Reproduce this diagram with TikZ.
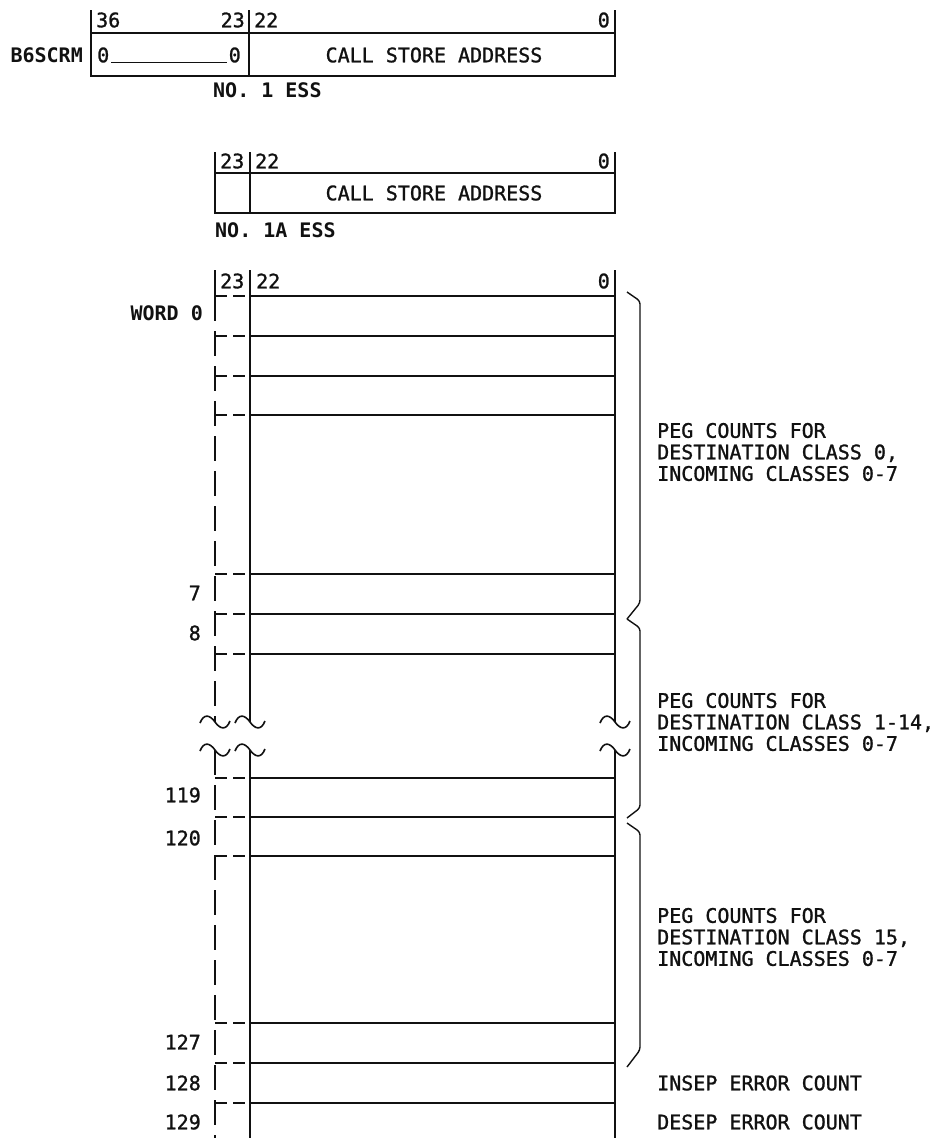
\documentclass[tikz,border=0pt]{standalone}
\usepackage{fontspec}
\setmonofont{DejaVu Sans Mono}
\newfontfamily\medmono[FakeBold=1.2]{DejaVu Sans Mono}
\usepackage{tikz}
\definecolor{ink}{HTML}{111111}

\begin{document}
\begin{tikzpicture}[x=1pt,y=-1pt,
  lbl/.style={font=\medmono\fontsize{20}{21.5}\selectfont,inner sep=0pt,text=ink,align=left},
  blbl/.style={lbl,font=\ttfamily\bfseries\fontsize{20}{21.5}\selectfont},
  wall/.style={draw=ink,line width=1.6pt},
  dwall/.style={wall,dash pattern=on 25pt off 10pt},
  dcell/.style={wall,dash pattern=on 12pt off 6pt},
  tick/.style={draw=ink,line width=1.4pt},
  grp/.style={draw=ink,line width=1.4pt,rounded corners=3pt}
]
\useasboundingbox (0,0) rectangle (939,1138);

% NO. 1 ESS register
\draw[wall] (91,33) rectangle (615,76);
\draw[wall] (249,33) -- (249,76);
\foreach \x in {91,249,615} \draw[tick] (\x,10) -- (\x,33);
\node[blbl,anchor=east] (reg) at (83,55) {B6SCRM};
\node[lbl,anchor=west] (b36) at (96,20) {36};
\node[lbl,anchor=east] (b23a) at (245,20) {23};
\node[lbl,anchor=west] (b22a) at (254,20) {22};
\node[lbl,anchor=east] (b0a) at (610,20) {0};
\node[lbl,anchor=west] (zl) at (97,55) {0};
\node[lbl,anchor=east] (zr) at (241,55) {0};
\draw[tick] ([xshift=2pt]zl.base east) -- ([xshift=-2pt]zr.base west);
\node[lbl] (csa) at (434,55) {CALL STORE ADDRESS};
\node[blbl,anchor=west] (ess1) at (213,90) {NO. 1 ESS};

% NO. 1A ESS register
\draw[wall] (215,173) rectangle (615,213);
\draw[wall] (250,173) -- (250,213);
\foreach \x in {215,250,615} \draw[tick] (\x,152) -- (\x,173);
\node[lbl,anchor=west] (b23b) at (220,161) {23};
\node[lbl,anchor=west] (b22b) at (255,161) {22};
\node[lbl,anchor=east] (b0b) at (610,161) {0};
\node[lbl] (csb) at (434,193) {CALL STORE ADDRESS};
\node[blbl,anchor=west] (ess1a) at (215,230) {NO. 1A ESS};

% peg count table
\foreach \x in {215,250,615} \draw[tick] (\x,270) -- (\x,296);
\node[lbl,anchor=west] (b23c) at (220,281) {23};
\node[lbl,anchor=west] (b22c) at (256,281) {22};
\node[lbl,anchor=east] (b0c) at (610,281) {0};

\foreach \y in {296,336,376,415,574,614,654,778,817,856,1023,1063,1103} {
  \draw[dcell] (215,\y) -- (250,\y);
  \draw[wall] (250,\y) -- (615,\y);
}
\draw[dwall] (215,296) -- (215,722);
\draw[dwall] (215,750) -- (215,1138);
\foreach \x in {250,615} {
  \draw[wall] (\x,296) -- (\x,722);
  \draw[wall] (\x,750) -- (\x,1138);
}
% break marks
\foreach \x in {215,250,615}
  \foreach \y in {722,750}
    \draw[wall] ({\x-15},{\y+1}) .. controls ({\x-11},{\y-9}) and ({\x-5},{\y-7}) .. (\x,\y)
                .. controls ({\x+5},{\y+7}) and ({\x+11},{\y+9}) .. ({\x+15},{\y-1});

% word numbers
\node[blbl,anchor=east] (w0) at (203,313) {WORD 0};
\foreach \t/\y in {7/593,8/633,119/795,120/838,127/1042,128/1083,129/1122}
  \node[lbl,anchor=east] (w\t) at (201,\y) {\t};

% groups
\draw[grp] (627,292) -- (640,301) -- (640,603) -- (627,619);
\draw[grp] (627,619) -- (640,628) -- (640,808) -- (627,818);
\draw[grp] (627,823) -- (640,832) -- (640,1050) -- (627,1067);
\node[lbl,anchor=west] (g0) at (657,452) {PEG COUNTS FOR\\DESTINATION CLASS 0,\\INCOMING CLASSES 0-7};
\node[lbl,anchor=west] (g1) at (657,722) {PEG COUNTS FOR\\DESTINATION CLASS 1-14,\\INCOMING CLASSES 0-7};
\node[lbl,anchor=west] (g15) at (657,937) {PEG COUNTS FOR\\DESTINATION CLASS 15,\\INCOMING CLASSES 0-7};
\node[lbl,anchor=west] (insep) at (657,1083) {INSEP ERROR COUNT};
\node[lbl,anchor=west] (desep) at (657,1122) {DESEP ERROR COUNT};
\end{tikzpicture}
\end{document}
